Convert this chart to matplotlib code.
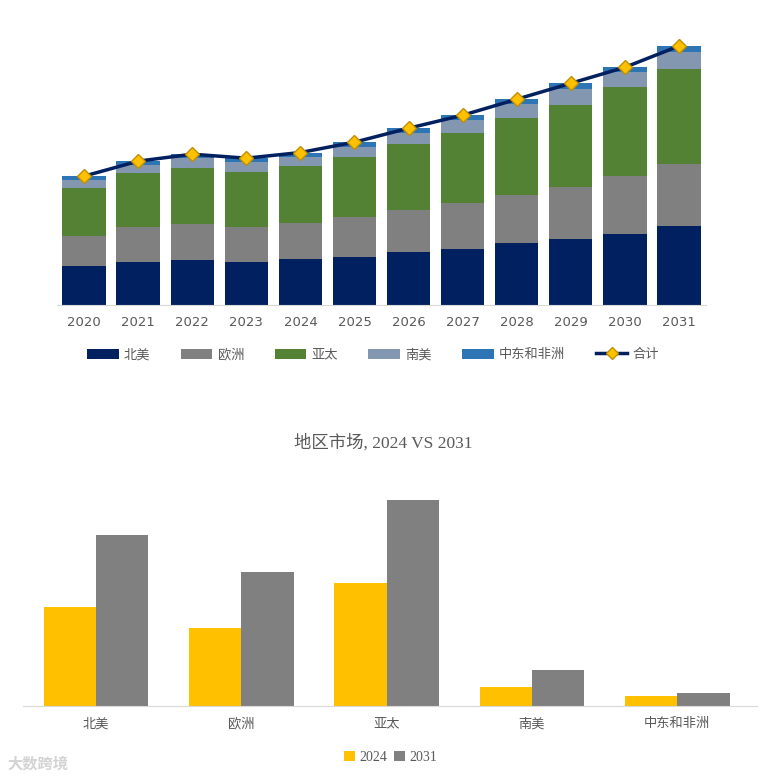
import matplotlib
matplotlib.use('Agg')
import numpy as np
import matplotlib.pyplot as plt
from matplotlib.lines import Line2D
from matplotlib.patches import Patch

plt.rcParams['font.family'] = ['DejaVu Sans', 'Noto Sans CJK SC']

years = ['2020', '2021', '2022', '2023', '2024', '2025',
         '2026', '2027', '2028', '2029', '2030', '2031']
regions = ['北美', '欧洲', '亚太', '南美', '中东和非洲']

north_america = [117, 129, 135, 129, 138, 144, 159, 168, 186, 198, 213, 237]
europe = [90, 105, 108, 105, 108, 120, 126, 138, 144, 156, 174, 186]
asia_pacific = [144, 162, 168, 165, 171, 180, 198, 210, 231, 246, 267, 287]
south_america = [24, 24, 30, 30, 27, 30, 33, 39, 42, 48, 45, 50]
mea = [12, 12, 12, 12, 14, 15, 15, 15, 15, 18, 15, 18]

colors = ['#002060', '#808080', '#548235', '#8497B0', '#2E75B6']
series = [north_america, europe, asia_pacific, south_america, mea]

fig = plt.figure(figsize=(7.66, 7.83), dpi=100)

# top: stacked bars + total line
ax = fig.add_axes([0.0744, 0.6105, 0.8473, 0.341])
x = np.arange(len(years))
bottom = np.zeros(len(years))
for vals, c in zip(series, colors):
    ax.bar(x, vals, 0.8, bottom=bottom, color=c, zorder=2)
    bottom += np.array(vals)
total = bottom
ax.plot(x, total, color='#002060', lw=2.5, marker='D', markersize=7,
        markerfacecolor='#FFC000', markeredgecolor='#BF9000', zorder=3)
ax.set_xlim(-0.5, len(years) - 0.5)
ax.set_ylim(0, total.max() * 1.031)
ax.set_xticks(x)
ax.set_xticklabels(years, fontsize=9.5, color='#595959')
ax.tick_params(axis='x', length=0, pad=8)
ax.set_yticks([])
for s in ['top', 'right', 'left']:
    ax.spines[s].set_visible(False)
ax.spines['bottom'].set_color('#D9D9D9')

handles = [Patch(facecolor=c) for c in colors]
handles.append(Line2D([0], [0], color='#002060', lw=2.5, marker='D', markersize=6,
                      markerfacecolor='#FFC000', markeredgecolor='#BF9000'))
fig.legend(handles, regions + ['合计'], loc='center', bbox_to_anchor=(0.487, 0.547),
           ncol=6, frameon=False, fontsize=9.5, handlelength=2.4, handleheight=0.8,
           columnspacing=2.3, handletextpad=0.4, labelcolor='#595959')

# bottom: 2024 vs 2031
i24 = years.index('2024')
i31 = years.index('2031')
vals_2024 = [s[i24] for s in series]
vals_2031 = [s[i31] for s in series]

ax2 = fig.add_axes([0.0305, 0.0983, 0.958, 0.302])
x2 = np.arange(len(regions))
w = 0.36
ax2.bar(x2 - w / 2, vals_2024, w, color='#FFC000', label='2024')
ax2.bar(x2 + w / 2, vals_2031, w, color='#808080', label='2031')
ax2.set_xlim(-0.5, len(regions) - 0.45)
ax2.set_ylim(0, max(vals_2031) * 1.145)
ax2.set_xticks(x2)
ax2.set_xticklabels(regions, fontsize=9.5, color='#595959', family='Noto Sans CJK SC')
ax2.tick_params(axis='x', length=0, pad=8)
ax2.set_yticks([])
for s in ['top', 'right', 'left']:
    ax2.spines[s].set_visible(False)
ax2.spines['bottom'].set_color('#D9D9D9')

fig.text(0.5, 0.434, '地区市场, 2024 VS 2031', ha='center', va='center', fontsize=12.5,
         color='#595959', family=['Liberation Serif', 'Noto Sans CJK SC'])

fig.legend(handles=[Patch(facecolor='#FFC000'), Patch(facecolor='#808080')],
           labels=['2024', '2031'], loc='center', bbox_to_anchor=(0.51, 0.033),
           ncol=2, frameon=False, handlelength=0.8, handleheight=0.8,
           columnspacing=0.5, handletextpad=0.3, labelcolor='#595959',
           prop={'family': 'Liberation Serif', 'size': 10})

fig.text(0.01, 0.018, '大数跨境', fontsize=11, color='#C8C8C8', alpha=0.8,
         family='Noto Sans CJK SC', fontweight='bold')

fig.savefig('out.png', dpi=100, facecolor='white')
